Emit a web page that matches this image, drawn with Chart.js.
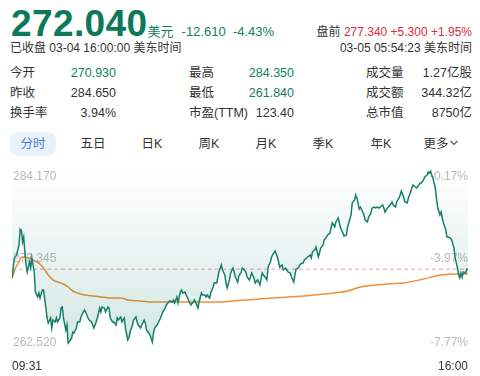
<!DOCTYPE html>
<html><head><meta charset="utf-8">
<script src="https://cdn.jsdelivr.net/npm/chart.js@4"></script>
<style>
html,body{margin:0;padding:0}
body{width:480px;height:376px;background:#fff;font-family:"Liberation Sans","Noto Sans CJK SC",sans-serif;position:relative;overflow:hidden;color:#333}
.abs{position:absolute;white-space:nowrap}
.g{color:#12805f}.r{color:#e1283c}
.big{font-size:37px;font-weight:bold;color:#0c7a5a;letter-spacing:0.4px}
.row{font-size:12.5px;line-height:16px}
.tab{font-size:12.5px;line-height:16px;top:136px;transform:translateX(-50%)}
#chartBox{position:absolute;left:0;top:160px;width:480px;height:216px}
</style></head>
<body>
<div class="abs" style="left:11px;top:4px;line-height:40px">
  <span class="big">272.040</span><span class="g" style="font-size:13px">美元</span><span class="g" style="font-size:13px;margin-left:8px">-12.610&nbsp;&nbsp;-4.43%</span>
</div>
<div class="abs" style="right:8px;top:24px;font-size:12px;line-height:16px"><span style="color:#333">盘前 </span><span class="r">277.340 +5.300 +1.95%</span></div>
<div class="abs" style="left:10px;top:40px;font-size:12px;line-height:16px">已收盘 03-04 16:00:00 美东时间</div>
<div class="abs" style="right:8px;top:40px;font-size:12px;line-height:16px">03-05 05:54:23 美东时间</div>

<div class="abs row" style="left:10px;top:65px">今开</div>
<div class="abs row g" style="right:364px;top:65px">270.930</div>
<div class="abs row" style="left:189px;top:65px">最高</div>
<div class="abs row g" style="right:186px;top:65px">284.350</div>
<div class="abs row" style="left:366px;top:65px">成交量</div>
<div class="abs row" style="right:8px;top:65px">1.27亿股</div>

<div class="abs row" style="left:10px;top:85px">昨收</div>
<div class="abs row" style="right:364px;top:85px">284.650</div>
<div class="abs row" style="left:189px;top:85px">最低</div>
<div class="abs row g" style="right:186px;top:85px">261.840</div>
<div class="abs row" style="left:366px;top:85px">成交额</div>
<div class="abs row" style="right:8px;top:85px">344.32亿</div>

<div class="abs row" style="left:10px;top:105px">换手率</div>
<div class="abs row" style="right:364px;top:105px">3.94%</div>
<div class="abs row" style="left:189px;top:105px">市盈(TTM)</div>
<div class="abs row" style="right:186px;top:105px">123.40</div>
<div class="abs row" style="left:366px;top:105px">总市值</div>
<div class="abs row" style="right:8px;top:105px">8750亿</div>

<div class="abs" style="left:10px;top:132px;width:46px;height:24px;border-radius:8px;background:#e8f1fc"></div>
<div class="abs tab" style="left:33px;color:#4a7fd9">分时</div>
<div class="abs tab" style="left:93px">五日</div>
<div class="abs tab" style="left:152px">日K</div>
<div class="abs tab" style="left:209px">周K</div>
<div class="abs tab" style="left:266px">月K</div>
<div class="abs tab" style="left:323px">季K</div>
<div class="abs tab" style="left:381px">年K</div>
<div class="abs tab" style="left:441px">更多<svg width="9" height="6" viewBox="0 0 9 6" style="margin-left:1px;vertical-align:2px"><path d="M1 1 L4.5 4.5 L8 1" fill="none" stroke="#555" stroke-width="1.1"/></svg></div>

<div id="chartBox"><canvas id="c" width="480" height="216"></canvas></div>

<script>
// ---- data ----
const minutes = [
  0,2,4,6,7,8,9,10,11,12,
  13,15,16,17,18,19,20,22,23,24,
  26,27,29,30,31,33,34,35,37,38,
  39,41,42,43,44,46,47,48,50,51,
  52,53,55,56,58,59,61,62,63,65,
  66,68,69,70,72,73,75,76,77,79,
  80,82,83,84,86,87,89,90,91,93,
  94,96,97,99,100,101,103,104,106,107,
  108,110,111,113,114,115,117,118,120,121,
  122,124,125,127,128,129,131,132,134,135,
  137,138,139,141,142,144,145,146,148,149,
  151,152,153,155,156,158,159,160,162,163,
  165,166,167,169,170,172,173,175,176,177,
  179,180,182,183,184,186,187,189,190,191,
  193,194,196,197,198,200,201,203,204,205,
  207,208,210,211,212,214,215,217,218,219,
  221,222,224,225,227,228,229,231,232,234,
  235,236,238,239,241,242,243,245,246,248,
  249,250,252,253,255,256,257,259,260,262,
  263,264,266,267,269,270,272,273,274,276,
  277,279,280,281,283,284,286,287,288,290,
  291,293,294,295,297,298,300,301,302,304,
  305,307,308,310,311,312,314,315,317,318,
  319,321,322,324,325,326,328,329,331,332,
  333,335,336,338,339,340,342,343,345,346,
  348,349,350,352,353,355,356,357,358,359,
  360,362,363,364,366,367,368,369,371,372,
  373,375,376,378,379,381,382,383,384,385,
  386,388,389,390
];
const prices = [
  270.93,273.41,273.77,275.00,276.95,276.83,275.36,275.97,274.14,272.55,
  271.69,272.92,272.18,273.41,272.55,271.69,269.25,268.64,269.13,268.51,
  269.49,269.49,267.29,266.07,265.46,266.07,264.84,265.82,265.58,266.07,
  265.58,266.07,267.29,267.41,266.07,264.60,265.21,263.01,263.38,263.62,
  264.35,264.23,264.84,265.58,265.58,266.19,266.80,267.04,266.80,266.07,
  265.82,265.58,265.21,264.84,265.58,266.07,267.29,266.80,267.41,267.29,
  266.80,267.41,267.29,266.07,265.58,265.58,265.21,266.07,265.82,266.19,
  265.58,266.07,264.84,263.38,263.62,264.35,265.21,265.82,266.19,265.58,
  265.21,264.84,265.21,265.82,265.46,264.60,264.23,263.99,263.13,264.23,
  264.84,265.21,265.46,266.07,266.43,266.80,267.29,267.66,268.02,268.15,
  268.02,268.27,267.90,268.64,267.90,269.25,269.49,269.13,269.25,268.88,
  268.27,267.90,267.66,268.02,268.27,267.66,267.29,268.02,269.13,268.88,
  268.88,268.64,268.88,268.51,269.13,269.86,270.35,270.35,270.96,271.69,
  272.55,271.94,271.33,270.35,269.74,270.72,271.57,272.18,271.69,271.08,
  270.47,271.20,271.69,272.18,272.06,271.69,271.08,270.72,271.08,271.57,
  270.96,270.35,270.72,270.47,270.10,271.57,271.33,270.96,270.72,272.30,
  272.92,273.53,274.02,274.26,273.53,272.92,272.30,272.55,271.94,272.18,
  271.94,271.69,271.57,271.08,270.47,271.33,272.06,272.18,272.55,272.79,
  272.79,273.16,273.41,273.53,273.77,273.41,274.14,274.38,274.75,273.53,
  274.02,274.63,275.00,275.61,275.97,276.22,276.46,277.20,277.69,277.20,
  277.81,278.30,277.69,277.08,276.46,276.10,276.22,277.20,277.69,278.67,
  280.13,280.50,281.11,280.75,279.40,279.64,279.03,278.67,278.05,277.81,
  278.42,278.91,279.52,279.64,279.52,279.64,279.52,279.64,279.89,279.52,
  279.03,279.52,279.64,280.01,280.26,279.89,279.64,280.26,280.75,281.11,
  281.60,280.87,280.26,280.13,280.75,281.11,281.97,282.33,282.09,281.97,
  282.33,282.58,282.58,282.95,283.31,283.56,283.93,283.80,284.05,283.56,
  283.19,281.97,280.75,279.64,278.67,279.03,278.30,277.69,276.83,275.97,
  275.97,275.85,275.61,274.63,273.41,272.18,271.33,270.96,271.57,271.08,
  271.69,271.57,272.06,272.04
];
const avgMinutes = [0,3,6,8,11,14,18,23,27,31,35,39,44,48,52,56,62,70,76,84,93,99,110,121,132,149,166,177,189,194,222,250,267,287,298,321,335,352,367,381,390];
const avgPrices  = [270.93,272.18,272.92,273.53,273.53,273.41,273.16,272.79,272.18,271.33,270.72,270.47,270.23,269.86,269.37,269.13,268.88,268.76,268.64,268.51,268.51,268.27,268.15,268.02,268.02,268.02,268.02,268.02,268.15,268.20,268.51,268.76,269.00,269.37,269.86,270.23,270.35,270.84,271.33,271.45,271.45];
const lastPrice = 272.04;
const priceTicks = [262.52, 273.345, 284.17];
const pctLabels = ['-7.77%', '-3.97%', '-0.17%'];
const timeTicks = [0, 390];
const timeLabels = ['09:31', '16:00'];

const priceData = minutes.map((m, i) => ({x: m, y: prices[i]}));
const avgData = avgMinutes.map((m, i) => ({x: m, y: avgPrices[i]}));
const lastData = [{x: timeTicks[0], y: lastPrice}, {x: timeTicks[1], y: lastPrice}];

const yLabels = {
  id: 'yLabels',
  beforeDatasetsDraw(chart) {
    const {ctx, chartArea, scales: {y}} = chart;
    ctx.save();
    ctx.font = '12px "Liberation Sans", sans-serif';
    ctx.fillStyle = '#b9b9b9';
    ctx.textBaseline = 'middle';
    priceTicks.forEach((v, i) => {
      let py = y.getPixelForValue(v);
      if (i === priceTicks.length - 1) py += 7;
      else if (i === 0) py -= 4;
      ctx.textAlign = 'left';
      ctx.fillText(v.toFixed(3), chartArea.left + 1, py);
      ctx.textAlign = 'right';
      ctx.fillText(pctLabels[i], chartArea.right, py);
    });
    ctx.restore();
  }
};

new Chart(document.getElementById('c'), {
  type: 'line',
  data: {
    datasets: [
      {
        data: priceData, borderColor: '#15806a', borderWidth: 1.5, pointRadius: 0, tension: 0,
        fill: 'end', order: 1,
        backgroundColor(ctx) {
          const a = ctx.chart.chartArea;
          if (!a) return 'rgba(0,0,0,0)';
          const g = ctx.chart.ctx.createLinearGradient(0, a.top, 0, a.bottom);
          g.addColorStop(0, 'rgba(20,128,104,0.0)');
          g.addColorStop(1, 'rgba(20,128,104,0.19)');
          return g;
        }
      },
      { data: avgData, borderColor: '#ef8f3a', borderWidth: 1.5, pointRadius: 0, cubicInterpolationMode: 'monotone', fill: false, order: 2 },
      { data: lastData, borderColor: '#f2a0a4', borderWidth: 1, borderDash: [4, 3], pointRadius: 0, fill: false, order: 3 }
    ]
  },
  options: {
    responsive: false, animation: false, events: [],
    layout: {padding: {top: 10, left: 10, right: 8, bottom: 2}},
    plugins: {legend: {display: false}, tooltip: {enabled: false}},
    scales: {
      x: {
        type: 'linear', min: timeTicks[0], max: timeTicks[1],
        grid: {display: false, drawTicks: false}, border: {display: false},
        afterBuildTicks(axis) { axis.ticks = timeTicks.map(v => ({value: v})); },
        afterFit(axis) { axis.height = 27; },
        ticks: {
          align: 'inner', padding: 12, color: '#333', maxRotation: 0, minRotation: 0, autoSkip: false,
          font: {size: 12, family: '"Liberation Sans", sans-serif'},
          callback(v) { return timeLabels[timeTicks.indexOf(v)]; }
        }
      },
      y: {min: priceTicks[0], max: priceTicks[2], display: false}
    }
  },
  plugins: [yLabels]
});
</script>
</body></html>
